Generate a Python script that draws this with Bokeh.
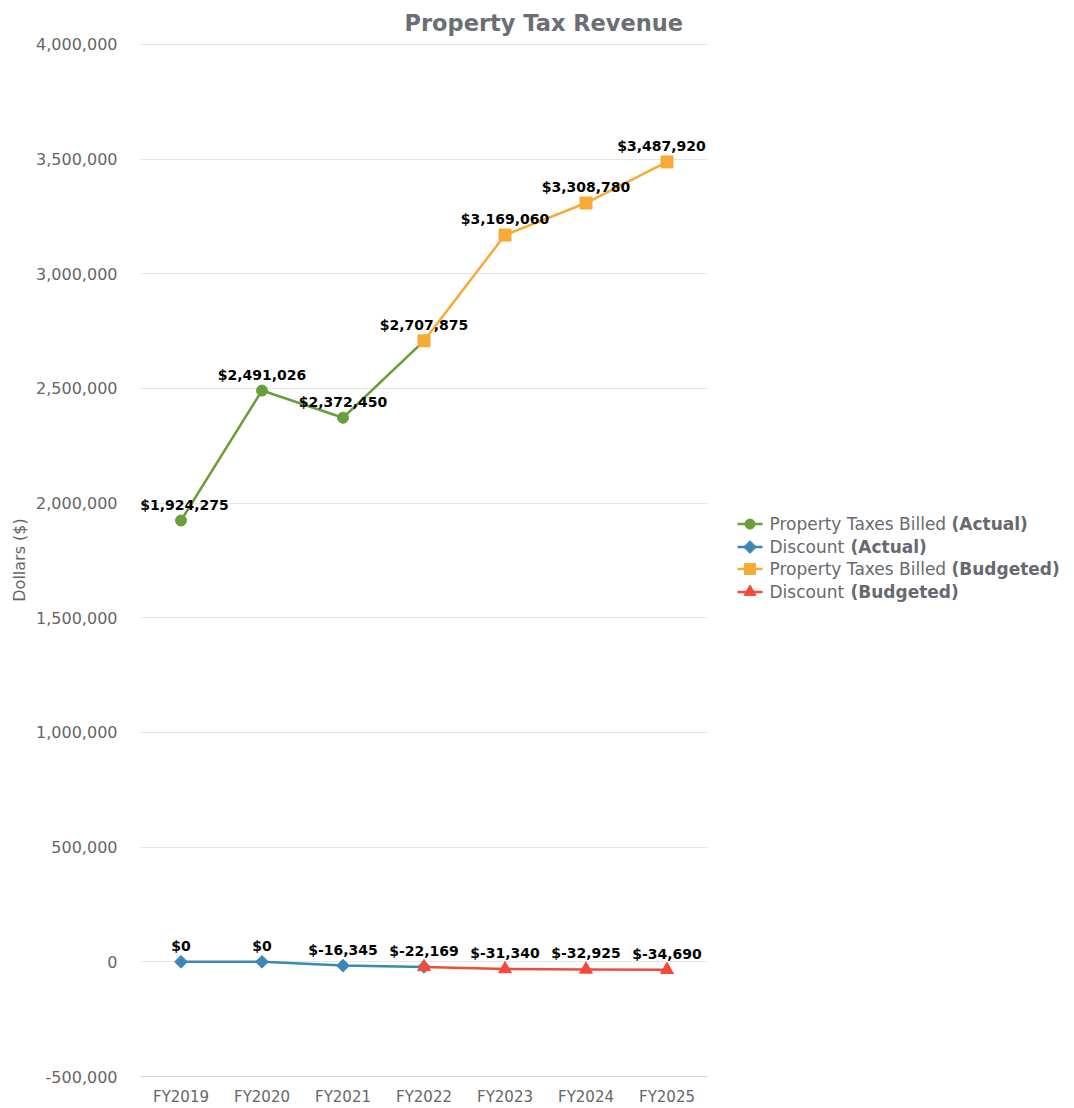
import math
from bokeh.plotting import figure
from bokeh.models import (ColumnDataSource, FactorRange, Range1d, FixedTicker,
                          NumeralTickFormatter, LabelSet)
from bokeh.layouts import row
from bokeh.core.properties import value
from bokeh.embed import file_html
from bokeh.resources import INLINE

# ---- data ----
years = ["FY2019", "FY2020", "FY2021", "FY2022", "FY2023", "FY2024", "FY2025"]

taxes_actual_years = ["FY2019", "FY2020", "FY2021", "FY2022"]
taxes_actual = [1924275, 2491026, 2372450, 2707875]

discount_actual_years = ["FY2019", "FY2020", "FY2021", "FY2022"]
discount_actual = [0, 0, -16345, -22169]

taxes_budget_years = ["FY2022", "FY2023", "FY2024", "FY2025"]
taxes_budget = [2707875, 3169060, 3308780, 3487920]

discount_budget_years = ["FY2022", "FY2023", "FY2024", "FY2025"]
discount_budget = [-22169, -31340, -32925, -34690]

y_ticks = [-500000, 0, 500000, 1000000, 1500000, 2000000, 2500000,
           3000000, 3500000, 4000000]

GREEN = "#6a9e3b"
BLUE = "#3b88b6"
ORANGE = "#f8aa36"
RED = "#f44a3c"
FONT = "DejaVu Sans"
TOP, BOTTOM = 42, 30


def money(v):
    return "$" + f"{v:,}"


# ---- main chart ----
# a hair of headroom above 4,000,000 keeps the top grid line inside the frame
p = figure(x_range=FactorRange(*years), y_range=Range1d(-500000, 4004350),
           width=720, height=1108, output_backend="svg", toolbar_location=None,
           min_border_left=140, min_border_right=13, min_border_top=TOP,
           min_border_bottom=BOTTOM)
p.outline_line_color = None
p.background_fill_color = "white"
p.border_fill_color = "white"

p.title.text = "Property Tax Revenue"
p.title.text_font = FONT
p.title.text_font_size = "22.5px"
p.title.text_font_style = "bold"
p.title.text_color = "#6b6e75"
p.title.align = "left"
p.title.offset = 264
p.title.standoff = 15

p.xgrid.grid_line_color = None
p.ygrid.grid_line_color = "#e6e6e6"
p.ygrid.grid_line_width = 1
p.yaxis.ticker = FixedTicker(ticks=y_ticks)
p.yaxis.formatter = NumeralTickFormatter(format="0,0")
p.yaxis.axis_line_color = None
p.yaxis.major_tick_line_color = None
p.yaxis.minor_tick_line_color = None
p.yaxis.major_label_standoff = 17
p.yaxis.major_label_text_font = FONT
p.yaxis.major_label_text_font_size = "16px"
p.yaxis.major_label_text_color = "#666666"
p.yaxis.axis_label = "Dollars ($)"
p.yaxis.axis_label_text_font = FONT
p.yaxis.axis_label_text_font_size = "16px"
p.yaxis.axis_label_text_font_style = "normal"
p.yaxis.axis_label_text_color = "#666666"
p.yaxis.axis_label_standoff = 4

p.xaxis.axis_line_color = "#ccd6eb"
p.xaxis.axis_line_width = 1
p.xaxis.major_tick_line_color = None
p.xaxis.minor_tick_line_color = None
p.xaxis.major_label_standoff = 5
p.xaxis.major_label_text_font = FONT
p.xaxis.major_label_text_font_size = "15px"
p.xaxis.major_label_text_color = "#666666"

series = [
    (taxes_actual_years, taxes_actual, GREEN, "circle", 11, 0),
    (discount_actual_years, discount_actual, BLUE, "square", 9, math.pi / 4),
    (taxes_budget_years, taxes_budget, ORANGE, "square", 12, 0),
    (discount_budget_years, discount_budget, RED, "triangle", 13, 0),
]
for xs, ys, color, marker, size, angle in series:
    src = ColumnDataSource(dict(x=xs, y=ys))
    p.line("x", "y", source=src, line_color=color, line_width=2.5)
    p.scatter("x", "y", source=src, marker=marker, size=size, angle=angle,
              fill_color=color, line_color=color)

# value labels: actual years from the actual series, later years from the budget
label_x = taxes_actual_years[:3] + taxes_budget_years + discount_actual_years[:3] + discount_budget_years
label_y = taxes_actual[:3] + taxes_budget + discount_actual[:3] + discount_budget
texts = [money(v) for v in label_y]
# nudge wide labels at the ends of the category axis so they stay in the frame
CHAR_W = 8.8
dx = []
for x, t in zip(label_x, texts):
    half = len(t) * CHAR_W / 2
    edge = 40.5 - 1  # half a category, in px
    if x == years[0]:
        dx.append(max(0.0, half - edge - 1))
    elif x == years[-1]:
        dx.append(-max(0.0, half - edge + 1))
    else:
        dx.append(0.0)
label_src = ColumnDataSource(dict(x=label_x, y=label_y, t=texts, dx=dx))
p.add_layout(LabelSet(x="x", y="y", text="t", source=label_src,
                      x_offset="dx", y_offset=11,
                      text_align="center", text_baseline="alphabetic",
                      text_font=value(FONT),
                      text_font_size="14px", text_font_style="bold",
                      text_color="black"))

# ---- legend panel (its frame lines up with the chart frame; units are px) ----
lg = figure(width=354, height=1108, x_range=Range1d(720, 1074),
            y_range=Range1d(1108 - BOTTOM, TOP), output_backend="svg",
            toolbar_location=None, min_border_left=0, min_border_right=0,
            min_border_top=TOP, min_border_bottom=BOTTOM)
lg.axis.visible = False
lg.grid.visible = False
lg.outline_line_color = None

legend_rows = [
    ("Property Taxes Billed", "(Actual)", GREEN, "circle", 10, 0, 524),
    ("Discount", "(Actual)", BLUE, "square", 9, math.pi / 4, 547),
    ("Property Taxes Billed", "(Budgeted)", ORANGE, "square", 11, 0, 569),
    ("Discount", "(Budgeted)", RED, "triangle", 12, 0, 592),
]
bold_start = {"Property Taxes Billed": 951, "Discount": 850}
for name, kind, color, marker, size, angle, yy in legend_rows:
    lg.line([737, 762], [yy, yy], line_color=color, line_width=2.5)
    lg.scatter([749.5], [yy], marker=marker, size=size, angle=angle,
               fill_color=color, line_color=color)
    lg.text([769], [yy], text=[name], text_font=value(FONT),
            text_font_size="17px", text_color="#666a70",
            text_baseline="middle", text_align="left")
    lg.text([bold_start[name]], [yy], text=[kind], text_font=value(FONT),
            text_font_size="17px", text_font_style="bold",
            text_color="#666a70", text_baseline="middle", text_align="left")

layout = row(p, lg)
open("out.html", "w").write(file_html(layout, INLINE))
